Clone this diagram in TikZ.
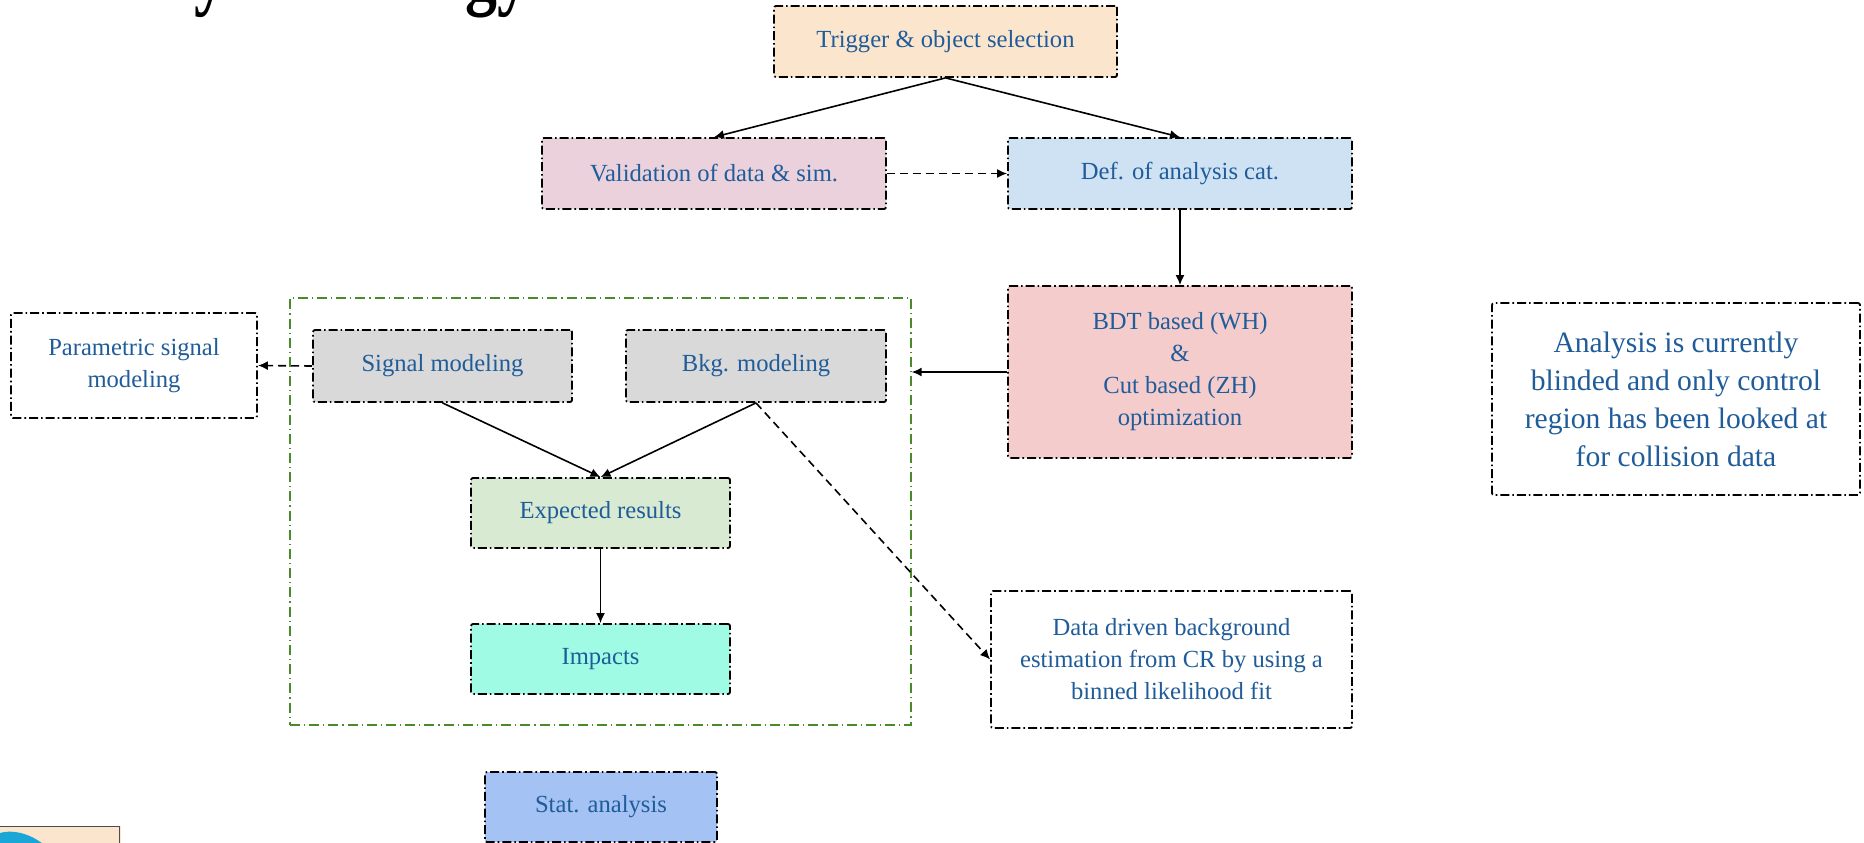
\documentclass[tikz,border=0pt]{standalone}
\usepackage{fontspec}
\usepackage{graphicx}
\setmainfont{Liberation Serif}
\usetikzlibrary{arrows.meta}
\definecolor{txt}{HTML}{1F5C99}
\definecolor{ctrig}{HTML}{FCE5CD}
\definecolor{cval}{HTML}{EAD1DC}
\definecolor{cdef}{HTML}{CFE2F3}
\definecolor{cbdt}{HTML}{F4CCCC}
\definecolor{cgray}{HTML}{D9D9D9}
\definecolor{cexp}{HTML}{D9EAD3}
\definecolor{cimp}{HTML}{A0FBE5}
\definecolor{cstat}{HTML}{A4C2F4}
\definecolor{cgreen}{HTML}{4A8A2A}
\definecolor{ccyan}{HTML}{1AA6D6}
\tikzset{
  box/.style={draw=black, line width=0.9pt,
    dash pattern=on 4.5pt off 1.5pt on 0.8pt off 1.5pt,
    text=txt, font=\fontsize{12.3}{16}\selectfont, align=center,
    inner sep=0pt, rounded corners=1pt},
  arr/.style={-{Latex[length=5pt,width=4.5pt]}, line width=0.8pt, solid},
  darr/.style={arr, dash pattern=on 4pt off 2.5pt},
}
\begin{document}
\begin{tikzpicture}[x=0.5pt,y=-0.5pt]
\useasboundingbox (0,0) rectangle (1864,842);
\clip (0,0) rectangle (1864,842);
% partial title and logo
\node[anchor=base west, inner sep=0pt, font=\fontsize{42}{48}\selectfont\bfseries] (title) at (63,-1) {\scalebox{0.76}[1]{Analysis strategy}};
\fill[ctrig] (0,826) rectangle (121,850);
\draw[line width=0.5pt, black!70] (0,826) -- (119,826) -- (119,850);
\fill[ccyan] (0,850) -- (0,833) .. controls (14,829) and (34,834) .. (50,850) -- cycle;
% nodes
\node[box, fill=ctrig, minimum width=171.5pt, minimum height=35.5pt] (trig) at (945.5,41.5) {Trigger \& object selection};
\node[box, fill=cval, minimum width=172pt, minimum height=35.5pt] (val) at (714,173.5) {Validation of data \& sim.};
\node[box, fill=cdef, minimum width=172pt, minimum height=35.5pt] (def) at (1180,173.5) {Def. of analysis cat.};
\node[box, fill=cbdt, minimum width=172pt, minimum height=86pt] (bdt) at (1180,372) {BDT based (WH)\\\&\\Cut based (ZH)\\optimization};
\node[box, minimum width=184pt, minimum height=96pt, font=\fontsize{14.8}{19}\selectfont] (anal) at (1676,399) {Analysis is currently\\blinded and only control\\region has been looked at\\for collision data};
\node[box, minimum width=123pt, minimum height=52.5pt] (param) at (134,365.5) {Parametric signal\\modeling};
\node[draw=cgreen, line width=0.7pt, dash pattern=on 5pt off 2pt on 0.6pt off 2pt, minimum width=310.5pt, minimum height=213.5pt, inner sep=0pt] (green) at (600.5,511.5) {};
\node[box, fill=cgray, minimum width=129.5pt, minimum height=36pt] (sig) at (442.5,366) {Signal modeling};
\node[box, fill=cgray, minimum width=130pt, minimum height=36pt] (bkg) at (756,366) {Bkg. modeling};
\node[box, fill=cexp, minimum width=129.5pt, minimum height=35pt] (exp) at (600.5,513) {Expected results};
\node[box, fill=cimp, minimum width=129.5pt, minimum height=35pt] (imp) at (600.5,659) {Impacts};
\node[box, minimum width=180.5pt, minimum height=68.5pt] (data) at (1171.5,659.5) {Data driven background\\estimation from CR by using a\\binned likelihood fit};
\node[box, fill=cstat, minimum width=116pt, minimum height=35pt] (stat) at (601,807) {Stat. analysis};
% connectors
\draw[arr] (trig.south) -- (val.north);
\draw[arr] (trig.south) -- (def.north);
\draw[darr] (val.east) -- (def.west);
\draw[arr] (def.south) -- (bdt.north);
\draw[arr] (bdt.west) -- (bdt.west -| green.east);
\draw[darr] (sig.west) -- (param.east);
\draw[arr] (sig.south) -- (exp.north);
\draw[arr] (bkg.south) -- (exp.north);
\draw[darr] (bkg.south) -- (data.west);
\draw[arr] (exp.south) -- (imp.north);
\end{tikzpicture}
\end{document}
